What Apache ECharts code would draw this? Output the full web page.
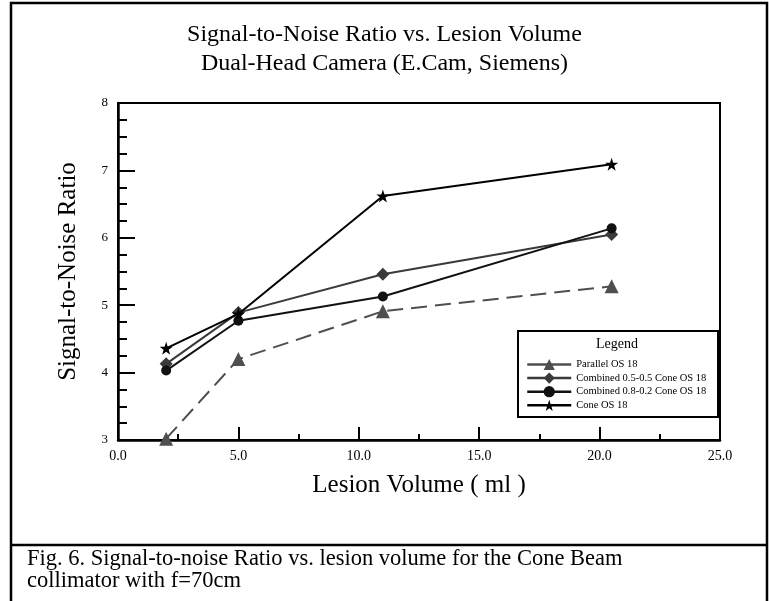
<!DOCTYPE html>
<html>
<head>
<meta charset="utf-8">
<script src="https://cdn.jsdelivr.net/npm/echarts@6/dist/echarts.min.js"></script>
<style>
html, body { margin: 0; padding: 0; background: #fff; }
#chart { width: 769px; height: 601px; }
</style>
</head>
<body>
<div id="chart"></div>
<script>
// ---- data ----
const lesionVolume = [2, 5, 11, 20.5];
const parallelOS18 = [3.02, 4.20, 4.91, 5.28];
const combined0505 = [4.13, 4.89, 5.46, 6.05];
const combined0802 = [4.03, 4.77, 5.13, 6.14];
const coneOS18 = [4.36, 4.87, 6.62, 7.09];
const seriesNames = ['Parallel OS 18', 'Combined 0.5-0.5 Cone OS 18', 'Combined 0.8-0.2 Cone OS 18', 'Cone OS 18'];
const titleLines = ['Signal-to-Noise Ratio vs. Lesion Volume', 'Dual-Head Camera (E.Cam, Siemens)'];
const captionLines = ['Fig. 6. Signal-to-noise Ratio vs. lesion volume for the Cone Beam', 'collimator with f=70cm'];
const xAxisTitle = 'Lesion Volume ( ml )';
const yAxisTitle = 'Signal-to-Noise Ratio';

const FONT = "'Liberation Serif', 'Times New Roman', serif";
const STAR = 'path://M50,0 L61.8,35.5 L99,35.5 L69,57.5 L80.5,93 L50,71 L19.5,93 L31,57.5 L1,35.5 L38.2,35.5 Z';

function pairs(ys) { return lesionVolume.map((x, i) => [x, ys[i]]); }

const chart = echarts.init(document.getElementById('chart'), null, { renderer: 'canvas' });

const option = {
  backgroundColor: '#ffffff',
  animation: false,
  title: {
    text: titleLines.join('\n'),
    left: 'center',
    top: 20,
    padding: 0,
    textStyle: { fontFamily: FONT, fontSize: 24, fontWeight: 'normal', color: '#000', lineHeight: 29 }
  },
  grid: {
    left: 118, right: 49, top: 103, bottom: 161,
    show: true, borderColor: '#000', borderWidth: 2, backgroundColor: 'transparent'
  },
  xAxis: {
    type: 'value', min: 0, max: 25, interval: 5,
    name: xAxisTitle, nameLocation: 'middle', nameGap: 33,
    nameTextStyle: { fontFamily: FONT, fontSize: 25, color: '#000' },
    axisLine: { lineStyle: { color: '#000', width: 2.5 } },
    axisTick: { inside: true, length: 13, lineStyle: { color: '#000', width: 2 } },
    minorTick: { show: true, splitNumber: 2, length: 6, lineStyle: { color: '#000', width: 2 } },
    axisLabel: { fontFamily: FONT, fontSize: 14, color: '#000', margin: 9, formatter: v => v.toFixed(1) },
    splitLine: { show: false }
  },
  yAxis: {
    type: 'value', min: 3, max: 8, interval: 1,
    name: yAxisTitle, nameLocation: 'middle', nameGap: 37, nameRotate: 90,
    nameTextStyle: { fontFamily: FONT, fontSize: 25, color: '#000' },
    axisLine: { show: true, lineStyle: { color: '#000', width: 2.5 } },
    axisTick: { show: true, inside: true, length: 17, lineStyle: { color: '#000', width: 2 } },
    minorTick: { show: true, splitNumber: 4, length: 9, lineStyle: { color: '#000', width: 2 } },
    axisLabel: { fontFamily: FONT, fontSize: 13, color: '#000', margin: 10 },
    splitLine: { show: false }
  },
  legend: {
    orient: 'vertical', left: 526, top: 358, padding: 0,
    itemWidth: 44, itemHeight: 14, itemGap: 0.6,
    textStyle: { fontFamily: FONT, fontSize: 10.5, color: '#000', lineHeight: 13 },
    lineStyle: { type: 'solid', width: 2.5 },
    data: seriesNames
  },
  graphic: [
    { type: 'rect', shape: { x: 11, y: 3, width: 756, height: 610 }, style: { fill: 'none', stroke: '#000', lineWidth: 2.5 }, silent: true },
    { type: 'line', shape: { x1: 11, y1: 545, x2: 767, y2: 545 }, style: { stroke: '#000', lineWidth: 2.5 }, silent: true },
    { type: 'rect', shape: { x: 518, y: 331, width: 200, height: 86 }, style: { fill: '#fff', stroke: '#000', lineWidth: 2 }, z: 1, silent: true },
    { type: 'text', x: 617, y: 344, style: { text: 'Legend', font: '14px ' + FONT, fill: '#000', textAlign: 'center', textVerticalAlign: 'middle' }, z: 2, silent: true },
    { type: 'text', x: 27, y: 559, style: { text: captionLines[0], font: '22.5px ' + FONT, fill: '#000', textAlign: 'left', textVerticalAlign: 'middle' }, silent: true },
    { type: 'text', x: 27, y: 581, style: { text: captionLines[1], font: '22.5px ' + FONT, fill: '#000', textAlign: 'left', textVerticalAlign: 'middle' }, silent: true }
  ],
  series: [
    {
      name: seriesNames[0], type: 'line', data: pairs(parallelOS18),
      symbol: 'triangle', symbolSize: 14,
      itemStyle: { color: '#4f4f4f' },
      lineStyle: { color: '#4f4f4f', width: 2, type: [16, 8] },
      z: 3
    },
    {
      name: seriesNames[1], type: 'line', data: pairs(combined0505),
      symbol: 'diamond', symbolSize: 13,
      itemStyle: { color: '#3a3a3a' },
      lineStyle: { color: '#3a3a3a', width: 2 },
      z: 4
    },
    {
      name: seriesNames[2], type: 'line', data: pairs(combined0802),
      symbol: 'circle', symbolSize: 10,
      itemStyle: { color: '#111' },
      lineStyle: { color: '#111', width: 2 },
      z: 5
    },
    {
      name: seriesNames[3], type: 'line', data: pairs(coneOS18),
      symbol: STAR, symbolSize: 13,
      itemStyle: { color: '#000' },
      lineStyle: { color: '#000', width: 2 },
      z: 6
    }
  ]
};

chart.setOption(option);
</script>
</body>
</html>
